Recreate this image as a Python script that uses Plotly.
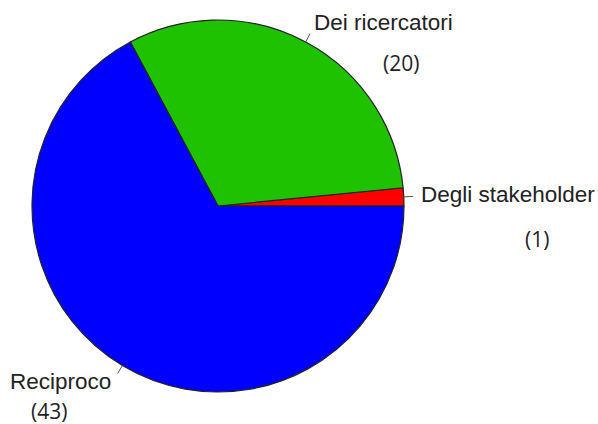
import math
import plotly.graph_objects as go

labels = ["Degli stakeholder", "Dei ricercatori", "Reciproco"]
values = [1, 20, 43]
colors = ["#ff0000", "#1ec200", "#0000ff"]

W, H = 598, 424
cx, cy, R = 218, 206, 186

total = sum(values)
fig = go.Figure(go.Pie(
    labels=labels, values=values, sort=False,
    direction="counterclockwise", rotation=90 - 360 * values[0] / total,
    marker=dict(colors=colors, line=dict(color="#222222", width=1.2)),
    textinfo="none", hoverinfo="label+value", showlegend=False,
    domain=dict(x=[(cx - R) / W, (cx + R) / W], y=[1 - (cy + R) / H, 1 - (cy - R) / H]),
))

def px(x, y):
    return x / W, 1 - y / H

# label offsets (pixels) relative to leader end: name dx, dy, anchor; count dx, dy
offsets = [
    (6, -2, "left", 124, 43),
    (2, -11, "left", 91, 29),
    (-5, 8, "right", -69, 37),
]

start = 0.0
annotations = []
shapes = []
for i, v in enumerate(values):
    frac = v / total
    mid = (start + frac / 2) * 2 * math.pi
    start += frac
    x0, y0 = cx + R * math.cos(mid), cy - R * math.sin(mid)
    x1, y1 = cx + R * 1.05 * math.cos(mid), cy - R * 1.05 * math.sin(mid)
    ax, ay = px(x0, y0)
    bx, by = px(x1, y1)
    shapes.append(dict(type="line", xref="paper", yref="paper", x0=ax, y0=ay, x1=bx, y1=by,
                       line=dict(color="#555555", width=1)))
    ndx, ndy, anc, cdx, cdy = offsets[i]
    nx, ny = px(x1 + ndx, y1 + ndy)
    annotations.append(dict(x=nx, y=ny, xref="paper", yref="paper", text=labels[i],
                            showarrow=False, xanchor=anc, yanchor="middle",
                            font=dict(family="Liberation Sans, Arial", size=22.5, color="#222222")))
    tx, ty = px(x1 + cdx, y1 + cdy)
    annotations.append(dict(x=tx, y=ty, xref="paper", yref="paper", text=f"({v})",
                            showarrow=False, xanchor="center", yanchor="middle",
                            font=dict(family="Open Sans", size=21, color="#1e1e2a")))

fig.update_layout(width=W, height=H, margin=dict(l=0, r=0, t=0, b=0),
                  paper_bgcolor="white", plot_bgcolor="white",
                  annotations=annotations, shapes=shapes)
fig.write_html("out.html")
